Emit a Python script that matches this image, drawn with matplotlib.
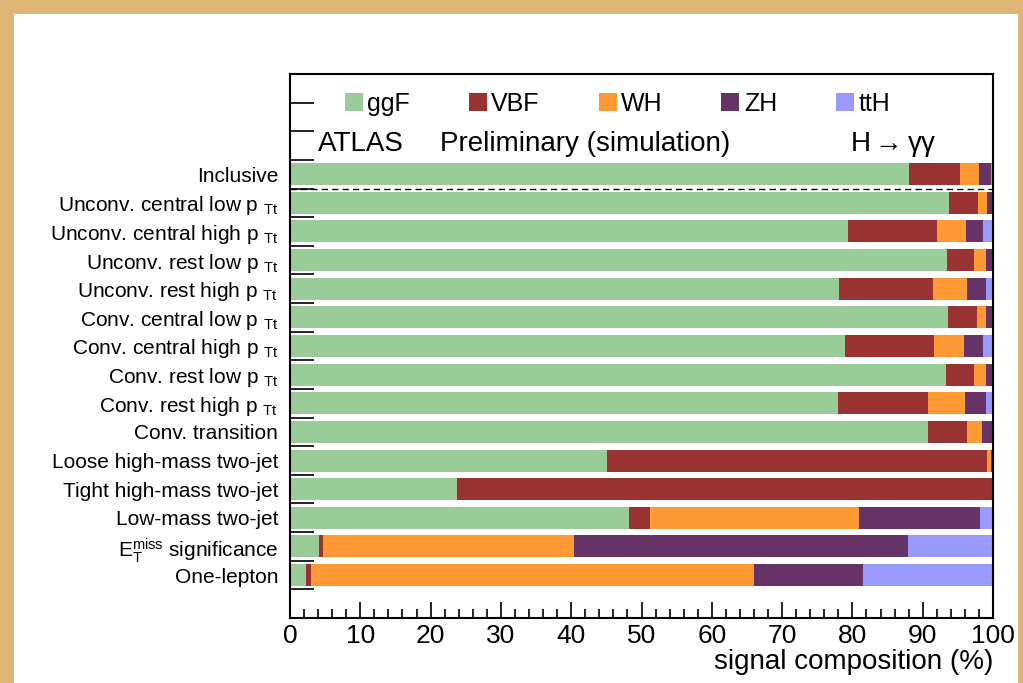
import matplotlib
matplotlib.use("Agg")
import matplotlib.pyplot as plt
from matplotlib.patches import Rectangle

plt.rcParams['font.family'] = ['Liberation Sans', 'DejaVu Sans']
plt.rcParams['mathtext.fontset'] = 'custom'
plt.rcParams['mathtext.rm'] = 'Liberation Sans'
plt.rcParams['mathtext.it'] = 'Liberation Sans:italic'

# categories, top to bottom
categories = [
    "Inclusive",
    "Unconv. central low p $_{\\rm Tt}$",
    "Unconv. central high p $_{\\rm Tt}$",
    "Unconv. rest low p $_{\\rm Tt}$",
    "Unconv. rest high p $_{\\rm Tt}$",
    "Conv. central low p $_{\\rm Tt}$",
    "Conv. central high p $_{\\rm Tt}$",
    "Conv. rest low p $_{\\rm Tt}$",
    "Conv. rest high p $_{\\rm Tt}$",
    "Conv. transition",
    "Loose high-mass two-jet",
    "Tight high-mass two-jet",
    "Low-mass two-jet",
    "E$_{\\rm T}^{\\rm miss}$ significance",
    "One-lepton",
]

# signal composition in %
ggF = [88.1, 93.8, 79.4, 93.4, 78.1, 93.6, 79.0, 93.3, 77.9, 90.8, 45.1, 23.75, 48.2, 4.1, 2.3]
VBF = [7.2, 4.0, 12.7, 3.9, 13.4, 4.1, 12.6, 4.0, 12.9, 5.5, 54.0, 76.05, 3.0, 0.55, 0.65]
WH = [2.75, 1.3, 4.0, 1.65, 4.8, 1.3, 4.3, 1.65, 5.2, 2.2, 0.55, 0.1, 29.7, 35.75, 63.1]
ZH = [1.6, 0.75, 2.5, 0.9, 2.7, 0.85, 2.7, 0.9, 2.95, 1.3, 0.2, 0.05, 17.3, 47.55, 15.45]
ttH = [0.35, 0.15, 1.4, 0.15, 1.0, 0.15, 1.4, 0.15, 1.05, 0.2, 0.15, 0.05, 1.8, 12.05, 18.5]

processes = ["ggF", "VBF", "WH", "ZH", "ttH"]
colors = ["#99cc99", "#993333", "#ff9933", "#663366", "#9999ff"]

fig = plt.figure(figsize=(10.23, 6.83), dpi=100)
fig.patch.set_facecolor("#dfb677")
# white page inside the tan frame
fig.patches.append(Rectangle((14 / 1023, 0), (1018 - 14) / 1023, (683 - 14) / 683,
                             transform=fig.transFigure, facecolor="white",
                             edgecolor="none", zorder=-10))

ax = fig.add_axes([290 / 1023, 65 / 683, 703 / 1023, 544 / 683])

ypos = [3.5 + i for i in range(len(categories))]
left = [0.0] * len(categories)
for name, vals, col in zip(processes, [ggF, VBF, WH, ZH, ttH], colors):
    ax.barh(ypos, vals, left=left, height=0.77, color=col, label=name, linewidth=0)
    left = [l + v for l, v in zip(left, vals)]

ax.axhline(4, color="black", linestyle=(0, (4.5, 3)), linewidth=1)

ax.set_xlim(0, 100)
ax.set_ylim(19, 0)

ax.set_yticks(range(1, 19))
ax.set_yticklabels([])
ax.set_yticks(ypos, minor=True)
ax.set_yticklabels(categories, minor=True, fontsize=15)
ax.tick_params(axis="y", which="major", direction="in", length=17, width=1.2)
ax.tick_params(axis="y", which="minor", length=0, pad=8.5)

ax.set_xticks(range(0, 101, 10))
ax.set_xticks(range(0, 101, 2), minor=True)
ax.tick_params(axis="x", which="major", direction="in", length=11.5, width=1.2,
               labelsize=19, pad=4)
ax.tick_params(axis="x", which="minor", direction="in", length=6.5, width=1.2)
ax.set_xlabel("signal composition (%)", loc="right", fontsize=20, labelpad=1)

for s in ax.spines.values():
    s.set_linewidth(1.5)

ax.legend(ncol=5, loc="center left", bbox_to_anchor=(0.078, 0.945), frameon=False,
          fontsize=18, handlelength=0.72, handleheight=0.72, handletextpad=0.18,
          columnspacing=2.35, borderpad=0, borderaxespad=0)

ax.text(0.04, 0.871, "ATLAS", transform=ax.transAxes,
        fontsize=20, va="center", ha="left")
ax.text(0.213, 0.871, "Preliminary (simulation)", transform=ax.transAxes,
        fontsize=20, va="center", ha="left")
ax.text(0.797, 0.871, "H$\\rightarrow$γγ", transform=ax.transAxes,
        fontsize=20, va="center", ha="left")

fig.savefig("out.png", dpi=100, facecolor=fig.get_facecolor())
